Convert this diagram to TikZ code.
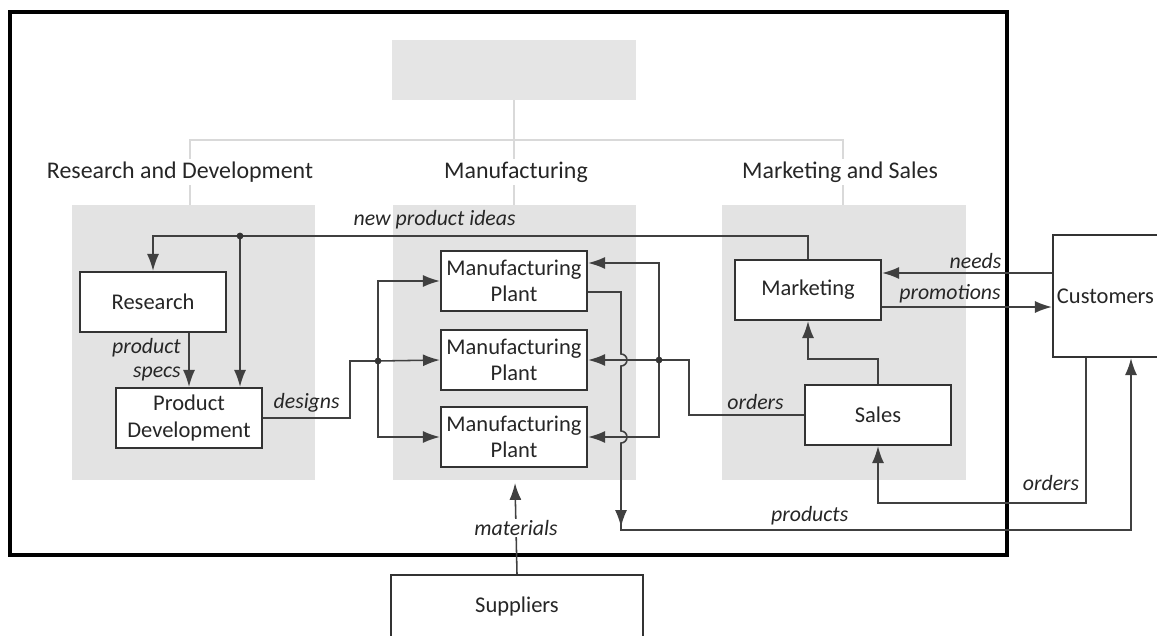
\documentclass[tikz,border=0pt]{standalone}
\usepackage{fontspec}
\setmainfont{Carlito}
\usetikzlibrary{arrows.meta}

\begin{document}
\begin{tikzpicture}[x=0.025cm, y=-0.025cm, >={Latex[length=12pt,width=8.5pt]},
  every node/.style={text=black!85, font=\fontsize{16}{18.5}\selectfont},
  box/.style={draw=black!80, line width=1.6pt, fill=white, align=center,
    minimum width=3.65cm, minimum height=1.5cm, inner sep=1pt},
  flow/.style={draw=black!75, line width=1.1pt},
  lbl/.style={font=\fontsize{15.5}{17}\itshape},
  head/.style={fill=white, inner sep=2pt, font=\fontsize{17}{20}\selectfont},
  org/.style={draw=black!15, line width=1.2pt},
  panel/.style={fill=black!11}]
\useasboundingbox (0,0) rectangle (1157,636);
\clip (0,0) rectangle (1157,636);
% org chart
\node[fill=black!10, minimum width=6.1cm, minimum height=1.5cm] (top) at (514,70) {};
\draw[org] (top.south) -- (514,205);
\draw[org] (190,205) -- (190,140) -- (843,140) -- (843,205);
\fill[panel] (72,205) rectangle (315,480);
\fill[panel] (393,205) rectangle (636,480);
\fill[panel] (722,205) rectangle (966,480);
\node[head] (rd) at (180,172) {Research and Development};
\node[head] (mf) at (516,172) {Manufacturing};
\node[head] (ms) at (840,172) {Marketing and Sales};
\draw[line width=2.2pt] (10,12) rectangle (1007,555);
% boxes
\node[box] (res) at (153,302) {Research};
\node[box] (pd) at (189,418) {Product\\Development};
\foreach \i/\y in {1/281, 2/360, 3/437}
  \node[box] (p\i) at (514,\y) {Manufacturing\\Plant};
\node[box] (mkt) at (808,290) {Marketing};
\node[box] (sal) at (878,415) {Sales};
\node[box, align=left, text width=3.05cm, inner xsep=0.1cm, minimum width=3.25cm,
  minimum height=3.05cm] (cus) at (1118,296) {Customers};
\node[box, minimum width=6.3cm, minimum height=1.55cm] (sup) at (517,606) {Suppliers};
% research and development
\coordinate (npi) at (240,236);
\draw[flow,->] (mkt.north) -- (mkt.north |- npi) -- (res.north |- npi)
  node[lbl, pos=0.57, above=1pt] {new product ideas} -- (res.north);
\draw[flow,->] (npi) -- (npi |- pd.north);
\fill[black!80] (npi) circle[radius=2.4pt];
\draw[flow,->] (res.south -| pd.north) -- (pd.north)
  node[lbl, midway, left=2pt, align=right] {product\\specs};
% designs
\coordinate (dsg) at (378,361);
\draw[flow] (pd.east) -- ++(87,0) node[lbl, midway, above] {designs} |- (dsg);
\draw[flow,->] (dsg) -- (p2.west);
\draw[flow,->] (dsg) |- (p1.west);
\draw[flow,->] (dsg) |- (p3.west);
\fill[black!80] (dsg) circle[radius=2.4pt];
% orders to plants
\coordinate (ord) at (659,360);
\draw[flow,->] (sal.west) -- ++(-115,0) node[lbl, pos=0.42, above] {orders} |- (p2.east);
\draw[flow,->] (ord) |- ([yshift=0.45cm]p1.east);
\draw[flow,->] (ord) |- (p3.east);
\fill[black!80] (ord) circle[radius=2.4pt];
% products
\coordinate (prd) at (621,530);
\draw[flow,->] ([yshift=-0.275cm]p1.east) -- (621,292) -- (621,354)
  arc[start angle=90, end angle=-90, radius=0.15cm] -- (621,431)
  arc[start angle=90, end angle=-90, radius=0.15cm] -- (621,527);
\draw[flow,->] (621,518) -- (prd) -- (prd -| 1131,0)
  node[lbl, pos=0.37, above] {products} -- ([xshift=0.325cm]cus.south);
% marketing and sales
\draw[flow,->] (sal.north) -- ++(0,-25) -| (mkt.south);
\draw[flow,->] ([yshift=0.575cm]cus.west) -- ([yshift=0.575cm]cus.west -| mkt.east)
  node[lbl, pos=0.45, above=-1pt] {needs};
\draw[flow,->] ([yshift=-0.275cm]cus.west -| mkt.east) -- ([yshift=-0.275cm]cus.west)
  node[lbl, pos=0.4, above=-1pt] {promotions};
\draw[flow,->] ([xshift=-0.8cm]cus.south) -- ++(0,145)
  node[lbl, pos=0.86, left=1pt] {orders} -| (sal.south);
% suppliers
\coordinate (mat) at (515,483);
\draw[flow,->] (sup.north) -- (mat) node[lbl, pos=0.5, fill=white, inner sep=1pt] {materials};
\end{tikzpicture}
\end{document}
